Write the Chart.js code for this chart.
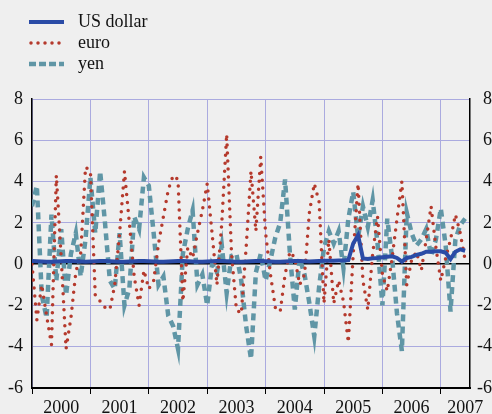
<!DOCTYPE html>
<html>
<head>
<meta charset="utf-8">
<script src="https://cdn.jsdelivr.net/npm/chart.js@4/dist/chart.umd.min.js"></script>
<style>
  html, body { margin: 0; padding: 0; background: #efefef; overflow: hidden; }
  #wrap { position: relative; width: 492px; height: 420px; }
  #legend { position: absolute; left: 29px; top: 11px; font: 18px 'Liberation Serif', 'Times New Roman', serif; color: #111; }
  #legend div { height: 21px; line-height: 21px; display: flex; align-items: center; }
  #legend svg { margin-right: 14px; }
</style>
</head>
<body>
<div id="wrap">
  <canvas id="chart" width="492" height="420"></canvas>
  <div id="legend">
    <div><svg width="35" height="8"><line x1="0" y1="4" x2="35" y2="4" stroke="#2a4ba6" stroke-width="4"/></svg>US dollar</div>
    <div><svg width="35" height="8"><line x1="2" y1="4" x2="34" y2="4" stroke="#b5392c" stroke-width="3.5" stroke-linecap="round" stroke-dasharray="0 7"/></svg>euro</div>
    <div><svg width="35" height="8"><line x1="0" y1="4" x2="35" y2="4" stroke="#6096a6" stroke-width="4.5" stroke-dasharray="7 3"/></svg>yen</div>
  </div>
</div>
<script>
// monthly values, Jan 2000 .. Jun 2007
const years = ['2000', '2001', '2002', '2003', '2004', '2005', '2006', '2007'];

const usDollar = [
  0.15, 0.14, 0.13, 0.12, 0.12, 0.13, 0.14, 0.15, 0.15, 0.14, 0.13, 0.12,
  0.13, 0.14, 0.15, 0.15, 0.14, 0.13, 0.12, 0.12, 0.13, 0.14, 0.15, 0.15,
  0.14, 0.13, 0.12, 0.12, 0.13, 0.14, 0.15, 0.15, 0.14, 0.13, 0.12, 0.12,
  0.13, 0.14, 0.15, 0.15, 0.14, 0.13, 0.12, 0.12, 0.13, 0.14, 0.15, 0.15,
  0.14, 0.13, 0.12, 0.12, 0.13, 0.14, 0.15, 0.15, 0.14, 0.13, 0.14, 0.15,
  0.16, 0.17, 0.17, 0.18, 0.18, 0.2, 1.0, 1.4, 0.28, 0.25, 0.28, 0.3,
  0.33, 0.36, 0.38, 0.3, 0.12, 0.3, 0.35, 0.45, 0.5, 0.6, 0.6, 0.62,
  0.62, 0.55, 0.25, 0.6, 0.72, 0.65
];

const euro = [
  0.0, -2.7, -1.0, -2.5, -3.9, 4.3, 0.3, -4.1, -2.6, -0.4, 0.5, 4.7,
  4.5, -1.5, -1.8, -2.1, -2.2, -1.0, 1.5, 4.5, 2.0, -0.6, -2.0, -0.3,
  -1.2, -0.8, 1.0, 2.3, 3.6, 4.3, 4.1, -1.8, 0.8, 0.3, 1.5, 2.6,
  3.9, 1.5, -1.0, 2.0, 6.3, 0.5, -2.2, -2.4, 0.8, 4.5, 1.6, 5.2,
  1.5, -0.5, -2.1, -2.3, -0.5, 0.6, 0.3, -1.0, -0.5, 2.5, 3.9, 3.0,
  -1.9, 1.2, -1.9, -0.8, -1.8, -3.8, 0.5, 3.9, -0.8, -2.2, 0.5, 2.3,
  -0.5, -1.3, 0.3, 2.2, 4.0, -1.0, 0.2, 0.6, -0.3, 1.2, 2.8, 0.8,
  -0.8, 0.3, 1.2, 2.4, 1.5, 0.2
];

const yen = [
  2.8, 3.8, -1.5, -2.6, 2.4, -0.8, 1.7, -1.5, 0.5, 1.5, -0.6, 1.2,
  4.2, 1.5, 4.5, 2.0, -0.8, -1.2, 1.5, -2.0, -1.2, 2.3, 1.7, 4.2,
  3.8, 1.5, -1.0, -0.6, -2.5, -3.0, -4.1, 0.5, 1.7, 2.6, -1.0, -0.5,
  -2.0, 0.0, -0.4, 0.9, -1.4, 0.4, 0.5, -0.8, -3.0, -4.6, -0.4, 0.5,
  -0.8, 0.2, 1.3, 2.0, 4.1, 0.5, -2.2, 0.3, -0.5, -1.9, -3.5, -1.1,
  0.8, 1.6, 1.0, 1.6, -0.2, 2.2, 3.5, 1.3, 2.8, 1.8, 3.1, 1.0,
  -2.0, 2.2, 0.3, -2.4, -4.2, 2.5, 1.5, 0.9, 1.2, 1.7, 0.4, 1.2,
  2.7, 0.9, -2.3, 1.2, 1.9, 2.2
];

const yTicks = [-6, -4, -2, 0, 2, 4, 6, 8];

const toPoints = arr => arr.map((v, i) => ({ x: i, y: v }));

const serif = "'Liberation Serif', 'Times New Roman', serif";
const gridBlue = '#aaaadf';

// x ticks: year boundaries every 12 months, labels at mid-year
function buildXTicks(scale) {
  const ticks = [];
  for (let i = 0; i < years.length; i++) {
    ticks.push({ value: i * 12 });
    ticks.push({ value: i === years.length - 1 ? 89 : i * 12 + 6 });
  }
  scale.ticks = ticks;
}

const isBoundary = ctx => ctx.tick && ctx.tick.value % 12 === 0;

new Chart(document.getElementById('chart'), {
  type: 'line',
  data: {
    datasets: [
      {
        label: 'US dollar',
        data: toPoints(usDollar),
        borderColor: '#2a4ba6',
        borderWidth: 4,
        pointRadius: 0
      },
      {
        label: 'euro',
        data: toPoints(euro),
        borderColor: '#b5392c',
        borderWidth: 3.5,
        borderDash: [0, 8],
        borderCapStyle: 'round',
        pointRadius: 0
      },
      {
        label: 'yen',
        data: toPoints(yen),
        borderColor: '#6096a6',
        borderWidth: 4.5,
        borderDash: [7, 5],
        pointRadius: 0
      }
    ]
  },
  options: {
    responsive: false,
    animation: false,
    layout: {
      padding: { left: 0, right: 0, top: 99, bottom: 0 }
    },
    plugins: {
      legend: { display: false },
      tooltip: { enabled: false }
    },
    scales: {
      x: {
        type: 'linear',
        min: 0,
        max: 90,
        afterBuildTicks: buildXTicks,
        afterFit: scale => { scale.height = 32; },
        grid: {
          color: ctx => isBoundary(ctx) ? gridBlue : 'rgba(0,0,0,0)',
          tickColor: ctx => isBoundary(ctx) ? '#000' : 'rgba(0,0,0,0)',
          tickLength: 6,
          lineWidth: 1
        },
        border: { display: true, color: '#000', width: 2 },
        ticks: {
          autoSkip: false,
          maxRotation: 0,
          padding: 3,
          color: '#111',
          font: { family: serif, size: 18 },
          callback: v => {
            if (v === 89) return years[7];
            if (v % 12 === 6) return years[(v - 6) / 12];
            return '';
          }
        }
      },
      y: {
        position: 'left',
        min: -6,
        max: 8,
        afterBuildTicks: scale => { scale.ticks = yTicks.map(v => ({ value: v })); },
        afterFit: scale => { scale.width = 32; },
        grid: {
          color: ctx => ctx.tick && ctx.tick.value === 0 ? '#000' : gridBlue,
          lineWidth: ctx => ctx.tick && ctx.tick.value === 0 ? 1.5 : 1,
          drawTicks: false
        },
        border: { display: true, color: '#000', width: 1.5 },
        ticks: {
          padding: 9,
          color: '#111',
          font: { family: serif, size: 18 }
        }
      },
      y2: {
        position: 'right',
        min: -6,
        max: 8,
        afterBuildTicks: scale => { scale.ticks = yTicks.map(v => ({ value: v })); },
        afterFit: scale => { scale.width = 22; },
        grid: { display: false, drawTicks: false },
        border: { display: true, color: '#000', width: 1.5 },
        ticks: {
          padding: 7,
          crossAlign: 'far',
          color: '#111',
          font: { family: serif, size: 18 }
        }
      }
    }
  }
});
</script>
</body>
</html>
